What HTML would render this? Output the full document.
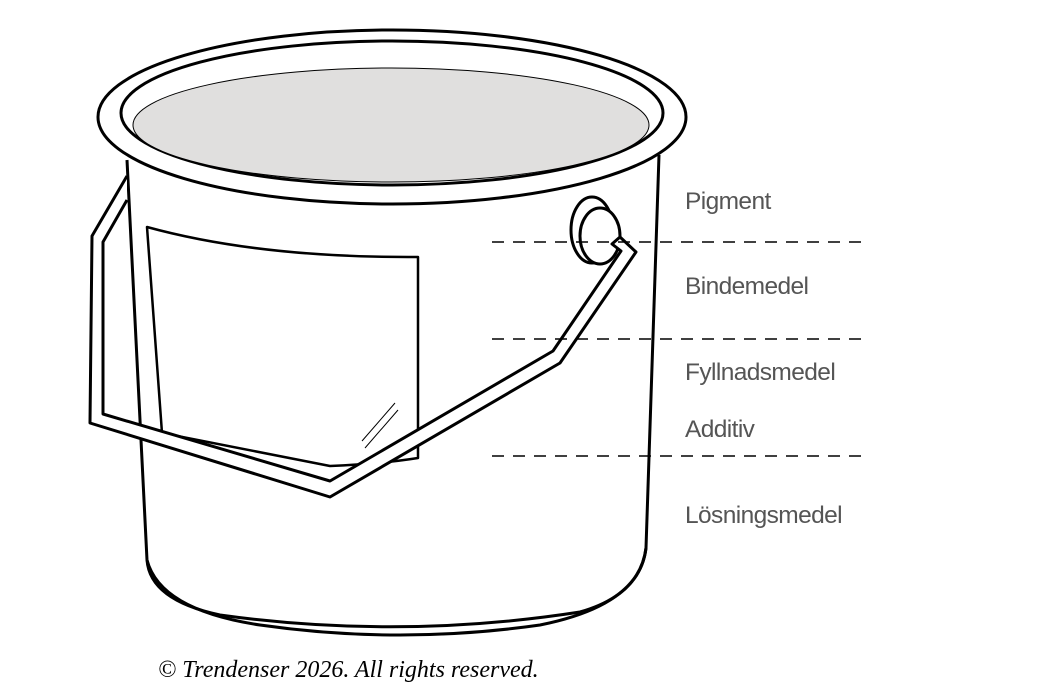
<!DOCTYPE html>
<html><head><meta charset="utf-8"><style>
html,body{margin:0;padding:0;background:#fff;width:1050px;height:698px;overflow:hidden}
svg{display:block}
.l{font-family:"Liberation Sans",sans-serif;font-size:24.5px;fill:#555;letter-spacing:-0.6px}
</style></head><body>
<svg width="1050" height="698" viewBox="0 0 1050 698" fill="none" stroke="#000" stroke-width="3" stroke-linejoin="round">
<path d="M127 160 L147 560 Q150 600 220 615 Q400 640 580 612 Q640 595 646 548 L659 155" fill="#fff"/>
<path d="M147 560 Q160 610 260 625 Q400 645 540 625 Q640 605 646 548" />
<ellipse cx="392" cy="117" rx="294" ry="87" fill="#fff"/>
<ellipse cx="392" cy="113" rx="271" ry="72" fill="#fff"/>
<ellipse cx="391" cy="125" rx="258" ry="57" fill="#e0dfde" stroke-width="1"/>
<path d="M147 227 Q260 258 418 257 L418 458 Q380 464 330 466 L162 433 Z" fill="#fff" stroke-width="2.5"/>
<path d="M362 441 L395 403 M365 448 L398 410" stroke-width="1"/>
<ellipse cx="592" cy="230" rx="21" ry="33" fill="#fff"/>
<ellipse cx="600" cy="236" rx="20" ry="28" fill="#fff"/>
<path d="M127 176 L92 236 L90 423 L330 497 L560 363 L636 252 L620 237 L612 244 L621 251 L553 351 L330 481 L103 414 L103 242 L127 200" fill="#fff"/>
<g stroke-width="1.6" stroke-dasharray="12 9">
<line x1="492" y1="242" x2="862" y2="242"/>
<line x1="492" y1="339" x2="862" y2="339"/>
<line x1="492" y1="456" x2="862" y2="456"/>
</g>
<g stroke="none">
<text class="l" x="685" y="209">Pigment</text>
<text class="l" x="685" y="294">Bindemedel</text>
<text class="l" x="685" y="380">Fyllnadsmedel</text>
<text class="l" x="685" y="437">Additiv</text>
<text class="l" x="685" y="523">Lösningsmedel</text>
<text x="158" y="677" fill="#000" style="font-family:'Liberation Serif',serif;font-style:italic;font-size:24px">© Trendenser 2026. All rights reserved.</text>
</g>
</svg>
</body></html>
